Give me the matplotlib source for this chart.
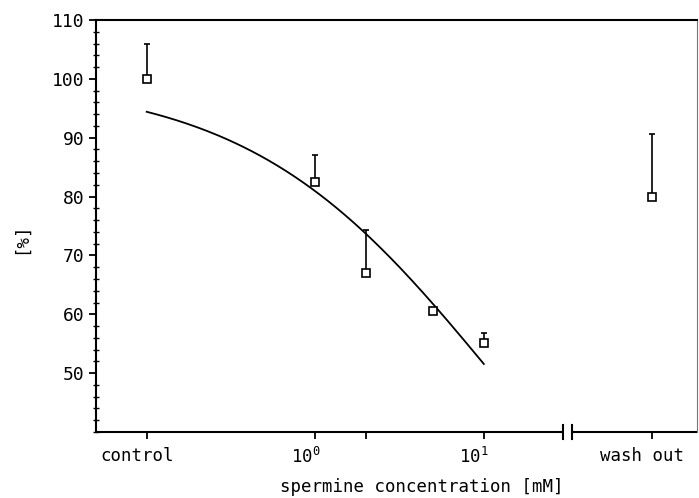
import numpy as np
import matplotlib
matplotlib.use("Agg")
import matplotlib.pyplot as plt
from matplotlib.transforms import blended_transform_factory, ScaledTranslation

# Measured responses (% of control) with upper error bars
conc = [0.1, 1.0, 2.0, 5.0, 10.0, 100.0]      # mM; 0.1 = control, 100 = wash out
response = [100.0, 82.5, 67.0, 60.5, 55.2, 80.0]
err_upper = [6.0, 4.6, 7.3, 0.0, 1.7, 10.6]

# Hill fit of the concentration series
ic50 = 11.1
hill_n = 0.6
fit_range = (0.1, 10.0)

xtick_pos = [0.1, 1.0, 2.0, 10.0, 100.0]
xtick_labels = ["control", "$10^0$", "", "$10^1$", "wash out"]
break_pos = (29.6, 33.4)

plt.rcParams["font.family"] = ["DejaVu Sans Mono"]
plt.rcParams["mathtext.fontset"] = "custom"
plt.rcParams["mathtext.rm"] = "DejaVu Sans Mono"
plt.rcParams["mathtext.it"] = "DejaVu Sans Mono"

fig = plt.figure(figsize=(6.99, 4.98), dpi=100)
ax = fig.add_axes([96 / 699, 1 - 432 / 498, 601 / 699, 412 / 498])

ax.set_xscale("log")
ax.set_xlim(0.05, 184)
ax.set_ylim(40, 110)

# fitted curve
c = np.logspace(np.log10(fit_range[0]), np.log10(fit_range[1]), 200)
ax.plot(c, 100.0 / (1.0 + (c / ic50) ** hill_n), color="black", lw=1.3)

# data points with upper error bars
for x, y, e in zip(conc, response, err_upper):
    if e > 0:
        ax.errorbar([x], [y], yerr=[[0], [e]], fmt="none", ecolor="black",
                    elinewidth=1.2, capsize=2.5, capthick=1.2)
ax.plot(conc, response, linestyle="none", marker="s", ms=6,
        mfc="white", mec="black", mew=1.2, zorder=5)

# axes styling
for s in ("left", "top"):
    ax.spines[s].set_linewidth(1.5)
ax.spines["right"].set_linewidth(0.8)
ax.spines["right"].set_color("#777777")
ax.spines["bottom"].set_visible(False)

# bottom axis drawn as two pieces with a break
tr = blended_transform_factory(ax.transData, ax.transAxes)
ax.plot([0.05, break_pos[0]], [0, 0], transform=tr, color="black", lw=1.5,
        clip_on=False, solid_capstyle="butt")
ax.plot([break_pos[1], 184], [0, 0], transform=tr, color="black", lw=1.5,
        clip_on=False, solid_capstyle="butt")
for bx in break_pos:
    ax.plot([bx, bx], [-0.017, 0.017], transform=tr, color="black", lw=1.5,
            clip_on=False)

ax.set_xticks(xtick_pos)
ax.set_xticklabels(xtick_labels)
ax.xaxis.set_minor_locator(matplotlib.ticker.NullLocator())
ax.tick_params(axis="x", which="major", direction="out", length=5, width=1.3,
               labelsize=12.5, pad=6)
shift = ScaledTranslation(-10 / 100, 0, fig.dpi_scale_trans)
for lbl in ax.get_xticklabels():
    lbl.set_transform(lbl.get_transform() + shift)

ax.set_yticks(np.arange(50, 111, 10))
ax.set_yticks(np.arange(40, 111, 2), minor=True)
ax.tick_params(axis="y", which="major", direction="out", length=5, width=1.3,
               labelsize=13, pad=3)
ax.tick_params(axis="y", which="minor", direction="inout", length=4, width=1.0)
ax.tick_params(top=False, right=False)

ax.set_ylabel("[%]", fontsize=12.5)
ax.yaxis.set_label_coords(-0.11, 0.47)
ax.set_xlabel("spermine concentration [mM]", fontsize=12.5)
ax.xaxis.set_label_coords(0.5415, -0.112)

fig.savefig("out.png", dpi=100)
